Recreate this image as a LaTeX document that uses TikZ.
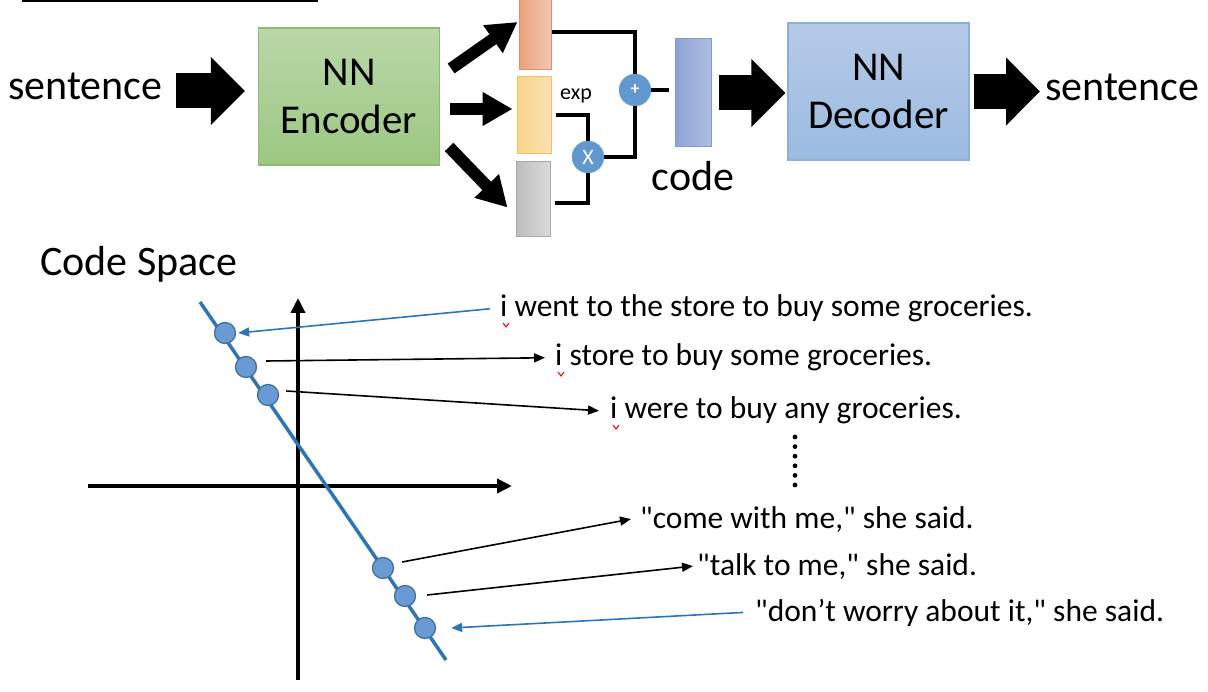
\documentclass[tikz,border=0pt]{standalone}
\usepackage{fontspec}
\setmainfont{Carlito}[Ligatures=TeXOff]
\usepackage{tikz}
\usetikzlibrary{arrows.meta}
\usetikzlibrary{positioning}

\definecolor{encTop}{HTML}{BAD7A8}
\definecolor{encBot}{HTML}{9CC782}
\definecolor{encLine}{HTML}{8DBB72}
\definecolor{decTop}{HTML}{B6CAE7}
\definecolor{decBot}{HTML}{9BBBE1}
\definecolor{decLine}{HTML}{8EAEDB}
\definecolor{muL}{HTML}{E9A27F}
\definecolor{muR}{HTML}{F3C6B0}
\definecolor{muLine}{HTML}{E08E68}
\definecolor{sigL}{HTML}{F9D48A}
\definecolor{sigR}{HTML}{FBE2B2}
\definecolor{sigLine}{HTML}{F2C15E}
\definecolor{epsL}{HTML}{BDBDBD}
\definecolor{epsR}{HTML}{DADADA}
\definecolor{epsLine}{HTML}{A8A8A8}
\definecolor{codeL}{HTML}{8EA3D6}
\definecolor{codeR}{HTML}{AFBEE0}
\definecolor{codeLine}{HTML}{7F9AD6}
\definecolor{opBlue}{HTML}{6198D0}
\definecolor{ptFill}{HTML}{6A9AD3}
\definecolor{ptLine}{HTML}{41719C}
\definecolor{lineBlue}{HTML}{2E75B6}

\tikzset{
  big/.style={font=\fontsize{42}{48}\selectfont},
  small/.style={font=\fontsize{31.5}{36}\selectfont},
  bigarrow/.style={line width=35pt,-{Triangle[length=34pt,width=66pt]}},
  midarrow/.style={line width=12pt,-{Triangle[length=30pt,width=32pt]}},
  nnbox/.style={rectangle,minimum width=181pt,minimum height=137pt,line width=1.2pt,
    align=center,font=\fontsize{41}{48}\selectfont},
  vecbox/.style={rectangle,inner sep=0pt,line width=1pt},
  opnode/.style={circle,minimum size=32pt,inner sep=0pt,fill=opBlue,draw=opBlue!85!white,
    text=white},
  wire/.style={line width=4pt},
  axis/.style={line width=4pt,-{Triangle[length=15pt,width=14pt]}},
  codept/.style={circle,minimum size=21pt,inner sep=0pt,fill=ptFill,draw=ptLine,line width=1.3pt},
  sent/.style={small,inner sep=0pt,anchor=base west},
  ptarrow/.style={line width=1.6pt,-{Triangle[length=11pt,width=9pt]}},
  ptarrowblue/.style={ptarrow,draw=lineBlue,fill=lineBlue},
  squig/.style={red,line width=1pt}
}

\begin{document}
\begin{tikzpicture}[x=1pt,y=-1pt]
\useasboundingbox (0,0) rectangle (1208,692);
% encoder / decoder row
\draw[line width=2pt] (22,1) -- (318,1);
\node[big,inner sep=0pt,anchor=base west] (sentL) at (8,100) {sentence};
\node[nnbox,top color=encTop,bottom color=encBot,draw=encLine] (enc) at (349,96.5) {NN\\Encoder};
\node[vecbox,minimum width=32pt,minimum height=76pt,left color=muL,right color=muR,draw=muLine] (mu) at (535,32) {};
\node[vecbox,minimum width=34pt,minimum height=77pt,left color=sigL,right color=sigR,draw=sigLine] (sig) at (534,115.5) {};
\node[vecbox,minimum width=34pt,minimum height=75pt,left color=epsL,right color=epsR,draw=epsLine] (eps) at (533,199.5) {};
\node[opnode,font=\fontsize{18}{18}\selectfont\bfseries] (plus) at (635,90) {+};
\node[opnode,font=\fontsize{22}{22}\selectfont] (mul) at (588,157) {X};
\node[font=\fontsize{22}{22}\selectfont] (exp) at (576,96) {exp};
\node[vecbox,minimum width=36pt,minimum height=108pt,left color=codeL,right color=codeR,draw=codeLine] (code) at (693,93) {};
\node[big,below=14pt of code,inner sep=0pt] (codelbl) {code};
\node[nnbox,top color=decTop,bottom color=decBot,draw=decLine] (dec) at (878.5,91.5) {NN\\Decoder};
\node[big,inner sep=0pt,anchor=base west] (sentR) at (1045,101) {sentence};

\draw[bigarrow] ([xshift=-82pt,yshift=5.5pt]enc.west) -- ([xshift=-13pt,yshift=5.5pt]enc.west);
\draw[bigarrow] ([xshift=7pt]code.east) -- ([xshift=-2pt]code.east -| dec.west);
\draw[bigarrow] ([xshift=4pt]dec.east) -- ([xshift=-5pt]dec.east -| sentR.west);

\draw[midarrow] ([shift={(11pt,28pt)}]enc.east) -- ([shift={(-1pt,10pt)}]mu.west);
\draw[midarrow] ([shift={(10pt,-12.5pt)}]enc.east) -- ([shift={(-4pt,6.5pt)}]sig.west);
\draw[midarrow] ([shift={(9pt,-50.5pt)}]enc.east) -- ([shift={(-8pt,-8pt)}]eps.west);

\draw[wire] (mu.east) -| (plus.north);
\draw[wire] ([xshift=4pt]sig.east) -| (mul.north);
\draw[wire] ([xshift=4pt,yshift=-4pt]eps.east) -| (mul.south);
\draw[wire] (mul.east) -| (plus.south);
\draw[wire] (plus.east) -- ([xshift=-6pt]code.west |- plus.east);

% code space
\node[big,inner sep=0pt,anchor=base west] (cs) at (40,276) {Code Space};
\draw[axis] (298,680) -- (298,298);
\draw[axis] (88,486) -- (512,486);
\draw[line width=3.5pt,lineBlue] (200,302) -- (446,660);
\node[codept] (p1) at (225,333) {};
\node[codept] (p2) at (246,367) {};
\node[codept] (p3) at (268,395) {};
\node[codept] (p4) at (383,568) {};
\node[codept] (p5) at (405,596) {};
\node[codept] (p6) at (425,628) {};

\node[sent] (s1) at (500,317) {i went to the store to buy some groceries.};
\node[sent] (s2) at (555,366) {i store to buy some groceries.};
\node[sent] (s3) at (610,419) {i were to buy any groceries.};
\node[sent] (s4) at (640,528) {"come with me," she said.};
\node[sent] (s5) at (697,575) {"talk to me," she said.};
\node[sent] (s6) at (755,621) {"don’t worry about it," she said.};
\foreach \k in {0,...,5} \fill (795,437+9.6*\k) circle (2.4);

\foreach \s in {s1,s2,s3}
  \draw[squig] ([shift={(3pt,-6pt)}]\s.base west) -- ++(3,4) -- ++(3,-4);

\draw[ptarrowblue] ([xshift=-10pt]s1.west) -- ([xshift=2pt]p1.east);
\draw[ptarrow] ([shift={(9pt,6pt)}]p2.east) -- ([xshift=-10pt]s2.west);
\draw[ptarrow] ([shift={(7pt,4pt)}]p3.east) -- ([xshift=-11pt]s3.west);
\draw[ptarrow] ([shift={(8pt,6pt)}]p4.east) -- ([xshift=-9pt]s4.west);
\draw[ptarrow] ([shift={(11pt,1pt)}]p5.east) -- ([xshift=-4pt]s5.west);
\draw[ptarrowblue] ([xshift=-12pt]s6.west) -- ([xshift=15pt]p6.east);
\end{tikzpicture}
\end{document}
